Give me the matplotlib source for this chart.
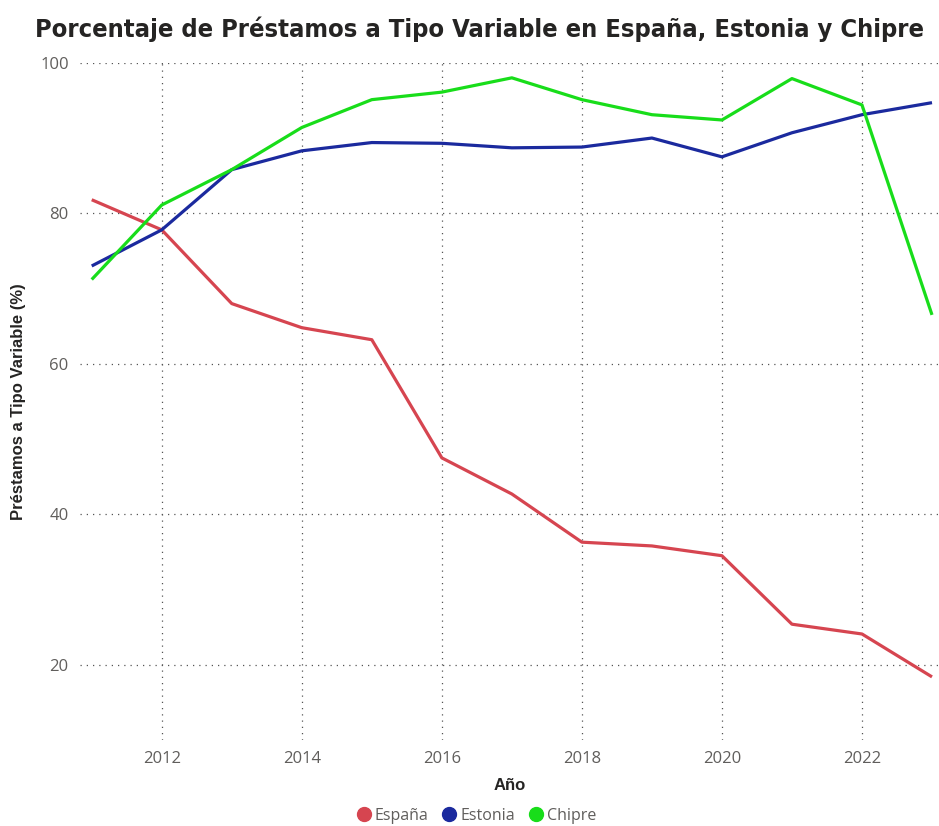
"""
Porcentaje de préstamos a tipo variable: España, Estonia y Chipre
"""

import matplotlib.pyplot as plt
from matplotlib.lines import Line2D

years = list(range(2011, 2024))
espana = [81.8, 77.8, 68.0, 64.8, 63.2, 47.5, 42.7, 36.3, 35.8, 34.5, 25.4, 24.1, 18.4]
estonia = [73.0, 77.8, 85.8, 88.3, 89.4, 89.3, 88.7, 88.8, 90.0, 87.5, 90.7, 93.1, 94.7]
chipre = [71.2, 81.1, 85.8, 91.4, 95.1, 96.1, 98.0, 95.1, 93.1, 92.4, 97.9, 94.4, 66.5]

series = ['España', 'Estonia', 'Chipre']
colors = ['#D64550', '#1B2A9E', '#18DD1A']

x_ticks = [2012, 2014, 2016, 2018, 2020, 2022]
y_ticks = [20, 40, 60, 80, 100]


def main():
    fig = plt.figure(figsize=(9.39, 8.26), dpi=100)
    ax = fig.add_axes([0.085, 0.104, 0.915, 0.82])

    for vals, c in zip([espana, estonia, chipre], colors):
        ax.plot(years, vals, color=c, lw=2.3, solid_capstyle='butt', zorder=3)

    ax.set_xlim(2010.83, 2023.1)
    ax.set_ylim(10, 100)
    ax.set_xticks(x_ticks)
    ax.set_yticks(y_ticks)
    ax.tick_params(length=0, labelsize=12, labelcolor='#605E5C', pad=8)
    for lab in ax.get_xticklabels() + ax.get_yticklabels():
        lab.set_family('Open Sans')

    ax.grid(True, color='#555555', lw=0.9, linestyle=(0, (1, 4)))
    for s in ax.spines.values():
        s.set_visible(False)

    ax.set_xlabel('Año', fontsize=12, fontweight='bold', color='#252423',
                  family='Liberation Sans', labelpad=8)
    ax.set_ylabel('Préstamos a Tipo Variable (%)', fontsize=12, fontweight='bold',
                  color='#252423', family='Liberation Sans', labelpad=10)

    title = fig.text(0.511, 0.964,
                     'Porcentaje de Préstamos a Tipo Variable en España, Estonia y Chipre',
                     ha='center', va='center', fontsize=20, fontweight='bold',
                     color='#252423', family='DejaVu Sans', fontstretch='condensed')
    # shrink the title until it fits the ~890 px the reference uses
    fig.canvas.draw()
    w = title.get_window_extent().width
    if w > 890:
        title.set_fontsize(20 * 890 / w)

    handles = [Line2D([], [], marker='o', ls='', color=c, markersize=10) for c in colors]
    fig.legend(handles, series, loc='center', bbox_to_anchor=(0.508, 0.012), ncol=3,
               frameon=False, handlelength=0.8, handletextpad=0.3, columnspacing=0.9,
               prop={'family': 'Open Sans', 'size': 11.5}, labelcolor='#605E5C')

    fig.savefig('out.png', dpi=100)


if __name__ == '__main__':
    main()
